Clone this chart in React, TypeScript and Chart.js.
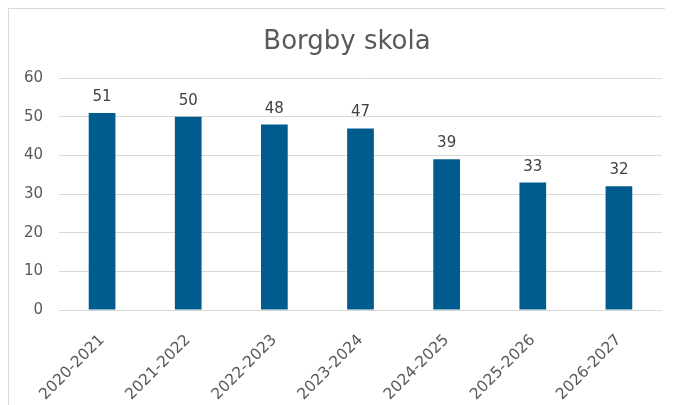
import React, { useEffect, useRef } from "react";
import { Chart, registerables } from "chart.js";

Chart.register(...registerables);

const categories = ["2020-2021", "2021-2022", "2022-2023", "2023-2024", "2024-2025", "2025-2026", "2026-2027"];
const values = [51, 50, 48, 47, 39, 33, 32];
const yTicks = [0, 10, 20, 30, 40, 50, 60];
const title = "Borgby skola";

const FONT = "'DejaVu Sans', Verdana, sans-serif";

const dataLabels = {
  id: "dataLabels",
  afterDatasetsDraw(chart: any) {
    const ctx = chart.ctx;
    const meta = chart.getDatasetMeta(0);
    ctx.save();
    ctx.font = `15px ${FONT}`;
    ctx.fillStyle = "#404040";
    ctx.textAlign = "center";
    ctx.textBaseline = "alphabetic";
    meta.data.forEach((bar: any, i: number) => {
      ctx.fillText(String(chart.data.datasets[0].data[i]), bar.x, bar.y - 12);
    });
    ctx.restore();
  },
};

export default function App() {
  const ref = useRef<HTMLCanvasElement>(null);
  useEffect(() => {
    if (!ref.current) return;
    const chart = new Chart(ref.current, {
      type: "bar",
      data: {
        labels: categories,
        datasets: [
          {
            data: values,
            backgroundColor: "#005B8E",
            barPercentage: 0.31,
            categoryPercentage: 1,
          },
        ],
      },
      options: {
        responsive: false,
        animation: false,
        devicePixelRatio: 1,
        layout: { padding: { left: 0, right: 0, top: 0, bottom: 0 } },
        plugins: {
          legend: { display: false },
          tooltip: { enabled: false },
          title: {
            display: true,
            text: title,
            color: "#595959",
            font: { family: FONT, size: 26, weight: "normal" as any, lineHeight: 1.2 },
            padding: { top: 18, bottom: 20 },
          },
        },
        scales: {
          x: {
            grid: { display: false },
            border: { display: false },
            ticks: {
              color: "#595959",
              font: { family: FONT, size: 15.5 },
              minRotation: 45,
              maxRotation: 45,
              padding: 13,
            },
            afterFit(scale: any) {
              scale.height = 119;
            },
          },
          y: {
            min: 0,
            max: 60,
            afterBuildTicks(scale: any) {
              scale.ticks = yTicks.map((v) => ({ value: v }));
            },
            grid: { color: "#d9d9d9", lineWidth: 1, drawTicks: false },
            border: { display: false },
            ticks: {
              color: "#595959",
              font: { family: FONT, size: 15 },
              padding: 16,
            },
            afterFit(scale: any) {
              scale.width = 50;
            },
          },
          spacer: {
            type: "linear",
            position: "right",
            display: true,
            grid: { display: false },
            border: { display: false },
            ticks: { display: false },
            afterFit(scale: any) {
              scale.width = 23;
            },
          },
        },
      },
      plugins: [dataLabels],
    });
    return () => chart.destroy();
  }, []);

  return (
    <div style={{ width: 665, height: 397, overflow: "hidden" }}>
      <div
        style={{
          position: "relative",
          width: 720,
          height: 440,
          border: "1px solid #d9d9d9",
          background: "#fff",
        }}
      >
        <canvas
          ref={ref}
          width={676}
          height={420}
          style={{ position: "absolute", left: 0, top: 0, width: 676, height: 420 }}
        />
      </div>
    </div>
  );
}
